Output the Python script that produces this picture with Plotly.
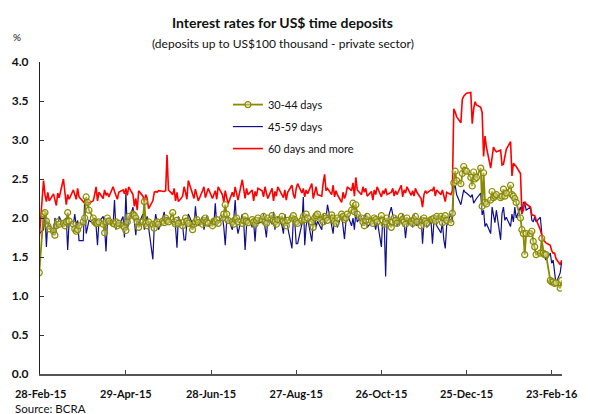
import pandas as pd
import plotly.graph_objects as go

# Business days from 27-Feb-2015 to 01-Mar-2016
dates = pd.bdate_range("2015-02-27", "2016-03-01")

# 30-44 days (olive, with markers)
rate_30_44 = [
    1.30,
    2.05, 2.07, 1.96, 1.90, 1.86, 1.83, 1.78, 1.90, 1.95, 1.92, 1.93, 1.90, 1.95, 2.07, 1.96, 1.92, 1.86, 1.83, 1.85, 1.90, 1.95, 2.00,
    2.27, 2.20, 2.10, 2.00, 1.95, 1.93, 1.93, 1.95, 1.92, 1.81, 1.95, 2.00, 1.96, 1.93, 1.92, 1.95, 1.90, 1.93, 1.90, 1.88, 1.84, 1.95,
    2.02, 2.05, 2.03, 2.00, 1.95, 1.88, 1.95, 2.21, 1.93, 1.90, 1.95, 1.92, 1.87, 1.93, 1.95, 1.92, 1.96, 1.94, 2.00, 1.97, 1.95,
    2.07, 1.95, 1.92, 1.97, 1.93, 1.90, 1.95, 2.00, 1.96, 1.93, 1.85, 1.92, 1.95, 1.98, 1.94, 1.92, 1.97, 2.00, 1.95, 1.93, 1.90, 1.96,
    1.95, 1.98, 1.93, 2.00, 2.05, 2.17, 2.05, 1.97, 1.95, 1.92, 1.98, 2.00, 1.95, 1.93, 1.97, 2.02, 1.96, 1.94, 1.98, 1.95, 1.92, 1.97, 2.00,
    1.98, 2.02, 1.95, 1.93, 2.00, 2.03, 1.97, 1.95, 1.92, 1.98, 2.02, 1.96, 1.94, 1.90, 1.97, 2.00, 2.03, 1.98, 1.95, 1.93, 1.97,
    2.02, 1.98, 2.05, 2.00, 1.95, 1.88, 2.00, 2.03, 2.05, 1.98, 1.95, 2.02, 2.00, 1.97, 2.04, 2.00, 1.96, 1.93, 2.00, 2.05, 2.02, 1.98,
    2.00, 2.05, 2.10, 2.19, 2.08, 2.17, 2.05, 2.00, 1.95, 1.90, 1.97, 2.02, 1.96, 1.93, 2.00, 1.98, 1.95, 2.03, 1.97, 1.92, 1.95, 2.00,
    1.88, 1.95, 2.00, 1.97, 1.93, 2.02, 1.98, 1.95, 1.92, 2.00, 1.96, 1.93, 1.98, 2.02, 1.95, 1.90, 1.97, 2.00, 1.96, 1.93, 1.98,
    1.98, 2.00, 1.96, 2.02, 2.02, 1.94, 2.00, 2.03, 1.97, 1.94, 2.06, 2.45, 2.60, 2.48, 2.44, 2.57, 2.66, 2.61, 2.60, 2.52, 2.41, 2.59, 2.50,
    2.52, 2.64, 2.15, 2.58, 2.20, 2.18, 2.23, 2.34, 2.26, 2.28, 2.30, 2.26, 2.28, 2.37, 2.28, 2.32, 2.42, 2.30, 2.28, 2.25, 2.20,
    2.00, 1.85, 1.80, 1.53, 1.80, 1.80, 1.83, 1.70, 1.63, 1.53, 1.55, 1.74, 1.55, 1.53, 1.53, 1.20, 1.18, 1.18, 1.16, 1.17, 1.10, 1.20,
]

# 45-59 days (navy)
rate_45_59 = [
    1.80,
    1.85, 2.05, 1.63, 1.95, 1.90, 1.78, 2.00, 1.95, 1.88, 2.02, 1.90, 1.98, 2.00, 1.59, 1.95, 1.92, 2.05, 1.90, 1.97, 1.71, 1.71, 2.25,
    1.80, 1.88, 1.97, 1.93, 2.00, 1.90, 1.65, 1.95, 2.02, 1.88, 1.57, 1.96, 2.00, 1.92, 2.23, 1.85, 1.95, 1.90, 2.02, 1.75, 2.32, 1.85,
    1.95, 2.14, 1.90, 1.78, 2.00, 1.92, 2.05, 1.85, 1.97, 2.02, 1.88, 1.47, 1.90, 2.05, 1.95, 1.85, 2.00, 2.08, 1.92, 2.00, 1.95,
    1.95, 2.00, 1.88, 1.62, 2.02, 1.90, 1.72, 1.72, 1.95, 2.05, 1.92, 1.88, 2.15, 1.95, 1.90, 2.02, 1.85, 1.97, 2.03, 1.90, 1.98, 1.92,
    2.19, 1.90, 1.95, 2.02, 1.88, 1.65, 1.95, 2.00, 1.85, 1.98, 2.23, 1.92, 1.80, 2.05, 1.95, 1.59, 1.90, 2.00, 1.88, 1.95, 1.70, 1.97, 1.93,
    1.95, 2.05, 1.88, 1.75, 2.00, 1.92, 2.08, 1.85, 1.97, 2.02, 1.90, 1.80, 2.05, 1.95, 1.88, 1.61, 2.00, 1.95, 1.67, 1.67, 1.92,
    2.27, 1.65, 1.90, 2.00, 1.70, 1.95, 2.02, 1.88, 1.96, 1.85, 2.05, 1.92, 1.98, 2.17, 1.90, 1.80, 2.02, 1.95, 1.88, 2.05, 1.92, 1.73,
    1.95, 2.05, 1.90, 2.00, 1.85, 2.08, 1.95, 2.02, 1.90, 1.97, 2.05, 1.88, 1.95, 2.00, 1.92, 1.85, 1.98, 1.63, 2.00, 1.95, 1.25, 1.95,
    2.14, 2.05, 1.95, 2.02, 1.90, 1.97, 2.05, 1.95, 1.74, 1.92, 2.00, 1.88, 2.05, 1.95, 1.90, 2.02, 1.67, 1.95, 2.00, 1.88, 1.95,
    1.67, 1.95, 2.02, 1.90, 1.81, 1.95, 1.72, 1.61, 1.90, 2.06, 1.95, 2.38, 2.42, 2.30, 2.17, 2.28, 2.36, 2.33, 2.32, 2.27, 2.30, 2.19, 2.22,
    2.25, 2.32, 2.04, 2.10, 1.89, 1.93, 1.80, 2.14, 2.06, 1.94, 2.10, 1.72, 2.06, 2.14, 1.97, 2.01, 1.89, 2.05, 1.95, 2.14, 2.00,
    2.14, 2.05, 2.20, 2.19, 2.10, 2.14, 1.97, 1.95, 2.01, 1.95, 2.01, 1.80, 1.53, 1.50, 1.46, 1.55, 1.42, 1.46, 1.29, 1.16, 1.30, 1.44,
]

# 60 days and more (red)
rate_60_plus = [
    1.75,
    2.48, 2.30, 2.21, 2.33, 2.22, 2.31, 2.24, 2.16, 2.32, 2.26, 2.50, 2.35, 2.17, 2.30, 2.24, 2.36, 2.30, 2.24, 2.38, 2.27, 2.21, 2.19,
    2.20, 2.21, 2.19, 2.22, 2.30, 2.40, 2.22, 2.33, 2.25, 2.36, 2.29, 2.32, 2.27, 2.40, 2.34, 2.28, 2.24, 2.33, 2.36, 2.31, 2.38, 2.29,
    2.40, 2.30, 2.15, 2.25, 2.10, 2.35, 2.28, 2.20, 2.30, 2.25, 2.12, 2.22, 2.33, 2.34, 2.33, 2.35, 2.34, 2.34, 2.35, 2.81, 2.36,
    2.30, 2.38, 2.22, 2.33, 2.21, 2.28, 2.40, 2.33, 2.24, 2.48, 2.30, 2.25, 2.37, 2.30, 2.22, 2.35, 2.40, 2.26, 2.33, 2.38, 2.25, 2.31,
    2.35, 2.24, 2.40, 2.30, 2.20, 2.35, 2.28, 2.18, 2.33, 2.27, 2.40, 2.30, 2.23, 2.49, 2.33, 2.25, 2.38, 2.30, 2.36, 2.22, 2.34, 2.28, 2.38,
    2.35, 2.27, 2.40, 2.32, 2.25, 2.38, 2.22, 2.34, 2.28, 2.40, 2.30, 2.26, 2.36, 2.23, 2.33, 2.42, 2.30, 2.25, 2.38, 2.44, 2.32,
    2.38, 2.27, 2.36, 2.31, 2.44, 2.25, 2.34, 2.40, 2.30, 2.28, 2.45, 2.56, 2.35, 2.38, 2.30, 2.42, 2.27, 2.35, 2.30, 2.20, 2.33, 2.25,
    2.30, 2.40, 2.35, 2.45, 2.28, 2.52, 2.36, 2.30, 2.40, 2.33, 2.38, 2.28, 2.34, 2.23, 2.36, 2.30, 2.40, 2.27, 2.35, 2.31, 2.38, 2.30,
    2.33, 2.38, 2.28, 2.35, 2.30, 2.42, 2.27, 2.36, 2.32, 2.40, 2.29, 2.35, 2.28, 2.38, 2.33, 2.25, 2.14, 2.30, 2.35, 2.32, 2.36,
    2.35, 2.40, 2.28, 2.36, 2.30, 2.36, 2.30, 2.21, 2.33, 2.30, 2.35, 3.40, 3.36, 3.30, 3.22, 3.52, 3.56, 3.58, 3.60, 3.61, 3.21, 3.40, 3.49,
    3.45, 3.42, 3.35, 2.79, 3.05, 2.91, 2.64, 2.80, 2.91, 2.87, 2.85, 2.87, 2.68, 2.69, 2.80, 2.88, 2.98, 2.54, 2.70, 2.68, 2.66,
    2.57, 2.06, 2.10, 2.21, 2.18, 2.14, 2.04, 2.03, 2.03, 1.98, 1.85, 1.78, 1.72, 1.70, 1.68, 1.65, 1.58, 1.55, 1.55, 1.48, 1.40, 1.46,
]

series_names = ["30-44 days", "45-59 days", "60 days and more"]

tick_dates = ["2015-02-28", "2015-04-29", "2015-06-28", "2015-08-27", "2015-10-26", "2015-12-25", "2016-02-23"]
tick_labels = ["28-Feb-15", "29-Apr-15", "28-Jun-15", "27-Aug-15", "26-Oct-15", "25-Dec-15", "23-Feb-16"]
y_ticks = [0.0, 0.5, 1.0, 1.5, 2.0, 2.5, 3.0, 3.5, 4.0]

for s in (rate_30_44, rate_45_59, rate_60_plus):
    if len(s) != len(dates):
        raise ValueError(f"length mismatch {len(s)} vs {len(dates)}")

FONT = "Lato"

fig = go.Figure()
fig.add_trace(go.Scatter(
    x=dates, y=rate_45_59, name=series_names[1], mode="lines",
    line=dict(color="#10108a", width=1.2), legendrank=2, legendgroup="b",
))
fig.add_trace(go.Scatter(
    x=dates, y=rate_60_plus, name=series_names[2], mode="lines",
    line=dict(color="#ff0000", width=1.6), legendrank=3, legendgroup="c",
))
fig.add_trace(go.Scatter(
    x=dates, y=rate_30_44, name=series_names[0], mode="lines+markers",
    line=dict(color="#8a8a00", width=1.8),
    marker=dict(symbol="circle", size=6, color="rgba(240,240,200,0.35)",
                line=dict(color="#8a8a00", width=1.2)),
    legendrank=1, legendgroup="a",
))

fig.update_layout(
    width=590, height=414,
    margin=dict(l=37, r=15, t=62, b=40),
    paper_bgcolor="white", plot_bgcolor="white",
    font=dict(family=FONT, color="#111111"),
    showlegend=True,
    legend=dict(
        x=0.36, y=0.91, xanchor="left", yanchor="top",
        bgcolor="rgba(0,0,0,0)", font=dict(family=FONT, size=11, color="#111111"),
        tracegroupgap=3, traceorder="grouped",
    ),
    xaxis=dict(
        type="date",
        range=["2015-02-27 12:00", "2016-03-01 06:00"],
        tickvals=tick_dates, ticktext=tick_labels,
        ticks="inside", ticklen=4, tickwidth=1, tickcolor="#444444",
        showline=True, linecolor="#555555", linewidth=1.5,
        showgrid=False, zeroline=False,
        tickfont=dict(family=FONT, size=11, weight="bold", color="#111111"),
        ticklabelstandoff=9, ticklabeloverflow="allow",
    ),
    yaxis=dict(
        range=[0, 4.0],
        tickvals=y_ticks, tickformat=".1f",
        ticks="inside", ticklen=4, tickwidth=1, tickcolor="#333333",
        showline=True, linecolor="#222222", linewidth=1,
        showgrid=False, zeroline=False,
        tickfont=dict(family=FONT, size=12, weight="bold", color="#111111"),
        ticklabelstandoff=8,
    ),
    annotations=[
        dict(text="<b>Interest rates for US$ time deposits</b>", xref="paper", yref="paper",
             x=(287 - 37) / 538, y=1 + (62 - 22) / 312, xanchor="center", yanchor="middle",
             showarrow=False, font=dict(family=FONT, size=14, color="#111111")),
        dict(text="(deposits up to US$100 thousand - private sector)", xref="paper", yref="paper",
             x=(287 - 37) / 538, y=1 + (62 - 44) / 312, xanchor="center", yanchor="middle",
             showarrow=False, font=dict(family=FONT, size=12, color="#111111")),
        dict(text="%", xref="paper", yref="paper",
             x=(13 - 37) / 538, y=1 + (62 - 37) / 312, xanchor="center", yanchor="middle",
             showarrow=False, font=dict(family=FONT, size=10, color="#111111")),
        dict(text="Source: BCRA", xref="paper", yref="paper",
             x=(9 - 37) / 538, y=-(400 - 374) / 312, xanchor="left", yanchor="top",
             showarrow=False, font=dict(family=FONT, size=11.5, color="#111111")),
    ],
)

fig.write_html("out.html", config={"displayModeBar": False},
               post_script="document.body.style.margin='0px';")
